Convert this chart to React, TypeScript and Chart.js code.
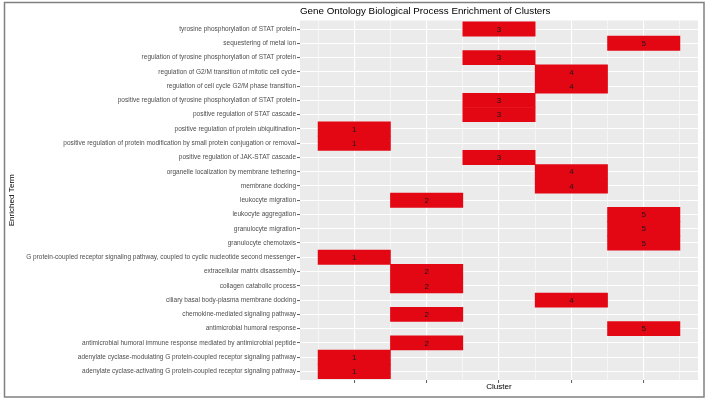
import { useEffect, useRef } from 'react';
import { Chart, registerables } from 'chart.js';
Chart.register(...registerables);

const chartTitle = 'Gene Ontology Biological Process Enrichment of Clusters';
const xTitle = 'Cluster';
const yTitle = 'Enriched Term';

const terms = [
  'tyrosine phosphorylation of STAT protein',
  'sequestering of metal ion',
  'regulation of tyrosine phosphorylation of STAT protein',
  'regulation of G2/M transition of mitotic cell cycle',
  'regulation of cell cycle G2/M phase transition',
  'positive regulation of tyrosine phosphorylation of STAT protein',
  'positive regulation of STAT cascade',
  'positive regulation of protein ubiquitination',
  'positive regulation of protein modification by small protein conjugation or removal',
  'positive regulation of JAK-STAT cascade',
  'organelle localization by membrane tethering',
  'membrane docking',
  'leukocyte migration',
  'leukocyte aggregation',
  'granulocyte migration',
  'granulocyte chemotaxis',
  'G protein-coupled receptor signaling pathway, coupled to cyclic nucleotide second messenger',
  'extracellular matrix disassembly',
  'collagen catabolic process',
  'ciliary basal body-plasma membrane docking',
  'chemokine-mediated signaling pathway',
  'antimicrobial humoral response',
  'antimicrobial humoral immune response mediated by antimicrobial peptide',
  'adenylate cyclase-modulating G protein-coupled receptor signaling pathway',
  'adenylate cyclase-activating G protein-coupled receptor signaling pathway',
];

const clusters = [3, 5, 3, 4, 4, 3, 3, 1, 1, 3, 4, 4, 2, 5, 5, 5, 1, 2, 2, 4, 2, 5, 2, 1, 1];

const clusterTicks = [1, 2, 3, 4, 5];

const FONT = '"Liberation Sans", Arial, Helvetica, sans-serif';

export default function App() {
  const ref = useRef<HTMLCanvasElement>(null);

  useEffect(() => {
    if (!ref.current) return;

    const panelBg = {
      id: 'panelBg',
      beforeDraw(chart: any) {
        const { ctx, chartArea: a } = chart;
        ctx.save();
        ctx.fillStyle = '#EBEBEB';
        ctx.fillRect(a.left, a.top, a.right - a.left, a.bottom - a.top);
        ctx.restore();
      },
    };

    const overlay = {
      id: 'overlay',
      afterDatasetsDraw(chart: any) {
        const { ctx, scales } = chart;
        ctx.save();
        ctx.fillStyle = '#1a1a1a';
        ctx.font = `8px ${FONT}`;
        ctx.textAlign = 'center';
        ctx.textBaseline = 'middle';
        clusters.forEach((c, i) => {
          const x = scales.x.getPixelForValue(c);
          const y = scales.y.getPixelForValue(i);
          ctx.fillText(String(c), x, y + 0.5);
        });
        ctx.restore();
      },
      afterDraw(chart: any) {
        const { ctx, chartArea: a } = chart;
        ctx.save();
        ctx.fillStyle = '#000';
        ctx.font = `9.8px ${FONT}`;
        ctx.textAlign = 'left';
        ctx.textBaseline = 'middle';
        ctx.fillText(chartTitle, a.left, 11);
        ctx.strokeStyle = '#808080';
        ctx.lineWidth = 1.5;
        ctx.strokeRect(4.5, 2.5, 699.5, 394.5);
        ctx.restore();
      },
    };

    const xGrid = [...clusterTicks.map((c) => c - 0.5), clusterTicks[clusterTicks.length - 1] + 0.5, ...clusterTicks].sort(
      (p, q) => p - q
    );

    const chart = new Chart(ref.current, {
      type: 'bar',
      data: {
        datasets: [
          {
            data: clusters.map((c, i) => ({ x: [c - 0.5, c + 0.5], y: i })) as any,
            backgroundColor: 'rgb(227,7,20)',
            borderColor: 'rgba(236,90,90,1)',
            borderWidth: 0,
            borderSkipped: false,
            barPercentage: 1,
            categoryPercentage: 1,
          },
        ],
      },
      options: {
        indexAxis: 'y',
        responsive: false,
        animation: false,
        layout: { padding: { left: 7, right: 10, top: 20.5, bottom: 14 } },
        plugins: { legend: { display: false }, tooltip: { enabled: false } },
        scales: {
          x: {
            type: 'linear',
            min: 0.25,
            max: 5.75,
            offset: false,
            afterBuildTicks: (s: any) => {
              s.ticks = xGrid.map((v) => ({ value: v }));
            },
            afterFit: (s: any) => {
              s.height = 12;
            },
            ticks: { display: true, callback: () => '', padding: 0 },
            grid: {
              offset: false,
              color: '#FFFFFF',
              lineWidth: (c: any) => (Number.isInteger(c.tick?.value) ? 1.1 : 0.55),
              tickColor: (c: any) => (Number.isInteger(c.tick?.value) ? '#333333' : 'rgba(0,0,0,0)'),
              tickLength: 3,
              tickWidth: 0.8,
            },
            border: { display: false },
            title: {
              display: true,
              text: xTitle,
              color: '#000',
              font: { family: FONT, size: 8.1 },
              padding: 0,
            },
          },
          y: {
            type: 'linear',
            min: -0.6,
            max: terms.length - 1 + 0.6,
            reverse: true,
            offset: false,
            afterBuildTicks: (s: any) => {
              s.ticks = terms.map((_, i) => ({ value: i }));
            },
            afterFit: (s: any) => {
              s.width = 293;
            },
            ticks: {
              autoSkip: false,
              padding: 1,
              color: '#4D4D4D',
              font: { family: FONT, size: 6.5 },
              callback: (v: any) => terms[v as number] ?? '',
            },
            grid: {
              offset: false,
              color: '#FFFFFF',
              lineWidth: 1.1,
              tickColor: '#333333',
              tickLength: 3,
              tickWidth: 0.8,
            },
            border: { display: false },
            title: {
              display: true,
              text: yTitle,
              color: '#000',
              font: { family: FONT, size: 8.1 },
              padding: 0,
            },
          },
        },
      },
      plugins: [panelBg, overlay],
    });

    return () => chart.destroy();
  }, []);

  return (
    <div style={{ position: 'fixed', left: 0, top: 0, width: 708, height: 406, background: '#fff' }}>
      <canvas ref={ref} width={708} height={406} style={{ display: 'block' }} />
    </div>
  );
}
